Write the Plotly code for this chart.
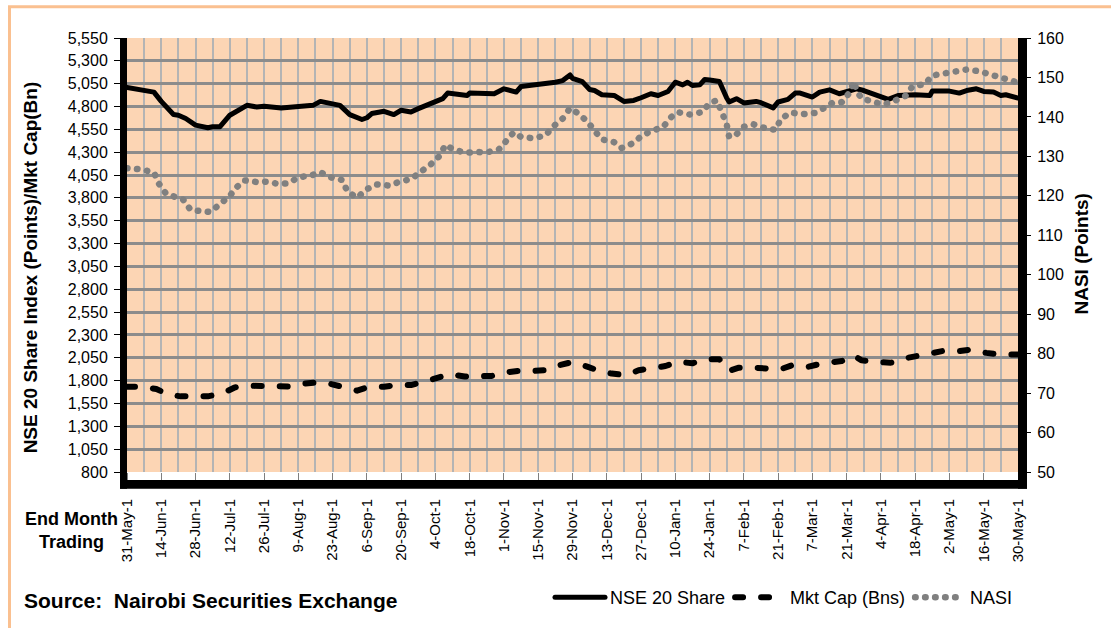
"""
NSE 20 Share index, market cap and NASI over one year of trading.
"""
import plotly.graph_objects as go

# x values are trading days counted from 31-May
tick_labels = ["31-May-1", "14-Jun-1", "28-Jun-1", "12-Jul-1", "26-Jul-1", "9-Aug-1",
               "23-Aug-1", "6-Sep-1", "20-Sep-1", "4-Oct-1", "18-Oct-1", "1-Nov-1",
               "15-Nov-1", "29-Nov-1", "13-Dec-1", "27-Dec-1", "10-Jan-1", "24-Jan-1",
               "7-Feb-1", "21-Feb-1", "7-Mar-1", "21-Mar-1", "4-Apr-1", "18-Apr-1",
               "2-May-1", "16-May-1", "30-May-1"]
tick_days = [14 * i for i in range(len(tick_labels))]

nse_day = [0, 7, 11, 14, 19, 21, 24, 28, 33, 35, 38, 42, 47, 49, 53, 56, 63, 70, 76, 79,
           84, 87, 91, 96, 98, 100, 105, 109, 112, 116, 119, 126, 129, 131, 133, 139, 140,
           147, 150, 154, 159, 161, 168, 173, 175, 178, 181, 182, 186, 189, 191, 194, 196,
           199, 203, 207, 210, 214, 217, 221, 224, 227, 229, 231, 234, 236, 238, 242, 245,
           246, 249, 252, 257, 259, 264, 266, 270, 273, 275, 280, 283, 287, 291, 294, 298,
           301, 305, 308, 311, 315, 322, 328, 329, 336, 340, 343, 347, 350, 354, 357, 359, 364]
nse_value = [5010, 4983, 4958, 4856, 4712, 4705, 4669, 4597, 4568, 4579, 4579, 4705, 4777,
             4813, 4795, 4802, 4785, 4802, 4813, 4856, 4831, 4813, 4712, 4658, 4677, 4723,
             4748, 4712, 4759, 4741, 4777, 4850, 4886, 4947, 4940, 4921, 4947, 4947, 4940,
             4994, 4958, 5019, 5040, 5055, 5066, 5084, 5145, 5109, 5073, 4986, 4975, 4929,
             4929, 4921, 4856, 4867, 4896, 4940, 4921, 4965, 5066, 5037, 5066, 5030, 5037,
             5095, 5091, 5073, 4893, 4850, 4886, 4839, 4856, 4842, 4785, 4850, 4878, 4947,
             4947, 4904, 4958, 4983, 4940, 4965, 4994, 4975, 4940, 4904, 4878, 4921, 4929,
             4921, 4969, 4969, 4947, 4975, 4994, 4965, 4958, 4921, 4929, 4893]

mktcap_day = [0, 6, 12, 17, 22, 28, 33, 39, 44, 49, 55, 61, 66, 72, 77, 83, 88, 94, 99, 105,
              110, 116, 121, 127, 132, 138, 143, 149, 154, 160, 166, 172, 177, 182, 188, 193,
              198, 204, 209, 215, 220, 225, 231, 236, 242, 246, 250, 256, 262, 267, 272, 278,
              284, 289, 292, 297, 300, 306, 312, 317, 323, 329, 333, 340, 345, 351, 356, 364]
mktcap_value = [1733, 1733, 1708, 1647, 1628, 1628, 1628, 1660, 1725, 1744, 1744, 1744, 1736,
                1766, 1780, 1766, 1733, 1690, 1733, 1733, 1751, 1751, 1787, 1834, 1870, 1845,
                1845, 1852, 1888, 1906, 1906, 1917, 1971, 2004, 1953, 1906, 1877, 1860, 1914,
                1931, 1960, 2007, 1990, 2033, 2033, 1906, 1942, 1942, 1935, 1924, 1971, 1949,
                1989, 2004, 2014, 2076, 2022, 2004, 1996, 2039, 2069, 2087, 2123, 2123, 2141,
                2104, 2087, 2087]

nasi_day = [0, 6, 11, 13, 16, 20, 23, 26, 30, 34, 38, 42, 45, 48, 53, 57, 62, 66, 70, 75, 79,
            83, 88, 90, 94, 98, 102, 107, 112, 116, 120, 124, 128, 130, 133, 138, 143, 147,
            152, 155, 158, 161, 166, 171, 174, 178, 181, 184, 188, 191, 194, 199, 202, 207,
            210, 214, 219, 222, 225, 230, 235, 238, 241, 243, 245, 246, 249, 252, 256, 261,
            265, 267, 271, 276, 281, 285, 288, 292, 295, 297, 298, 300, 304, 309, 313, 318,
            321, 326, 329, 334, 338, 343, 348, 352, 357, 362, 364]
nasi_value = [127, 126.7, 125.9, 123.1, 120.5, 119.4, 119, 116.4, 116.0, 115.9, 117.9, 120,
              122.3, 123.9, 123.5, 123.6, 123, 123.2, 124.7, 125.1, 126, 124.7, 124, 121.1,
              119.5, 121.7, 122.9, 122.6, 123.7, 124.2, 126.1, 127.9, 130.3, 132.9, 131.9,
              130.9, 131.1, 131, 131.8, 133.9, 136.1, 134.9, 134.6, 135.3, 137.5, 139.6, 142.2,
              141, 138.9, 136.5, 134.3, 133.6, 132.1, 133.4, 135.1, 136.4, 137.4, 139.8, 141.2,
              140.6, 141.2, 143.5, 144.2, 141.2, 138.1, 134.9, 135.6, 137.5, 138.1, 137.1,
              136.7, 139.4, 141.1, 140.7, 141, 142.3, 143.5, 143.7, 146, 149, 146.8, 144.7,
              143.8, 143.1, 143.9, 145.3, 147.8, 148.3, 150.5, 151.1, 151.6, 152, 151.6, 150.8,
              150, 149, 148.7]

FONT = "Liberation Sans, Arial, sans-serif"

# plot area in pixels: x 127..1018, y 38..477
L, R, T, B = 127, 1018, 38, 477


def px(x):
    return (x - L) / (R - L)


def py(y):
    return (B - y) / (B - T)


def bold(size):
    return dict(family=FONT, size=size, color='black', weight='bold')


fig = go.Figure()

fig.add_trace(go.Scatter(
    x=nse_day, y=nse_value, mode='lines', name='NSE 20 Share',
    line=dict(color='black', width=5)
))
fig.add_trace(go.Scatter(
    x=mktcap_day, y=mktcap_value, mode='lines', name='Mkt Cap (Bns)',
    line=dict(color='black', width=6, dash='8px,18px')
))
fig.add_trace(go.Scatter(
    x=nasi_day, y=nasi_value, mode='lines', name='NASI', yaxis='y2',
    line=dict(color='#808080', width=6.5, dash='0.5px,9.5px')
))

# black frame around the plot area and the orange border of the picture
shapes = [
    dict(type='rect', xref='paper', yref='paper', x0=px(9.5), x1=px(1300), y0=py(800), y1=py(6.5),
         line=dict(color='#FAC090', width=3), fillcolor='rgba(0,0,0,0)', layer='below'),
    dict(type='rect', xref='paper', yref='paper', x0=px(120), x1=px(127), y0=py(494), y1=py(38),
         line=dict(width=0), fillcolor='black'),
    dict(type='rect', xref='paper', yref='paper', x0=px(1018), x1=px(1027), y0=py(494), y1=py(38),
         line=dict(width=0), fillcolor='black'),
    dict(type='rect', xref='paper', yref='paper', x0=px(120), x1=px(1027), y0=py(494), y1=py(485),
         line=dict(width=0), fillcolor='black'),
]

annotations = [
    dict(text='NSE 20 Share Index (Points)/Mkt Cap(Bn)', textangle=-90, x=px(30), y=py(270),
         xanchor='center', yanchor='middle', font=bold(19)),
    dict(text='NASI (Points)', textangle=-90, x=px(1082), y=py(257),
         xanchor='center', yanchor='middle', font=bold(19)),
    dict(text='End Month<br>Trading', x=px(71), y=py(536), xanchor='center', yanchor='middle',
         align='center', font=bold(18)),
    dict(text='Source:  Nairobi Securities Exchange', x=px(22), y=py(607), xanchor='left',
         yanchor='middle', font=bold(21)),
]
for a in annotations:
    a.update(xref='paper', yref='paper', showarrow=False)

fig.update_layout(
    width=1111, height=628,
    margin=dict(l=L, r=1111 - R, t=T, b=628 - B),
    paper_bgcolor='white',
    plot_bgcolor='#FCD5B4',
    font=dict(family=FONT, size=16, color='black'),
    shapes=shapes,
    annotations=annotations,
    showlegend=True,
    legend=dict(orientation='h', x=1.0, xanchor='right', y=py(604), yanchor='middle',
                font=dict(family=FONT, size=18), bgcolor='rgba(0,0,0,0)', itemwidth=50),
    yaxis2=dict(overlaying='y', side='right', range=[50, 160], tickmode='linear', tick0=50, dtick=10,
                showgrid=False, zeroline=False, ticks='outside', ticklen=12, tickcolor='black',
                ticklabelstandoff=3),
)

fig.update_xaxes(
    range=[0, 364], tickmode='array', tickvals=tick_days, ticktext=tick_labels,
    tickangle=-90, ticks='outside', ticklen=8, tickcolor='#808080', ticklabelstandoff=12,
    tickfont=dict(size=15), showgrid=True, gridcolor='#B4B4B4', gridwidth=2, zeroline=False,
    minor=dict(tickmode='linear', tick0=0, dtick=7, showgrid=True, gridcolor='#B4B4B4',
               gridwidth=2, ticks='')
)
fig.update_yaxes(
    selector=dict(overlaying=None),
    range=[800, 5550], tickmode='linear', tick0=800, dtick=250, tickformat=',d',
    showgrid=True, gridcolor='#8C8C8C', gridwidth=2.5, zeroline=False,
    ticks='outside', ticklen=12, tickcolor='black', ticklabelstandoff=3
)

# Excel draws its dash/dot lines with round caps
round_caps = """
document.body.style.margin = '0';
document.querySelectorAll('path.js-line').forEach(function(p) {
    p.style.strokeLinecap = 'round';
    p.style.strokeLinejoin = 'round';
});
"""

fig.write_html("out.html", post_script=round_caps, config={'displayModeBar': False})
